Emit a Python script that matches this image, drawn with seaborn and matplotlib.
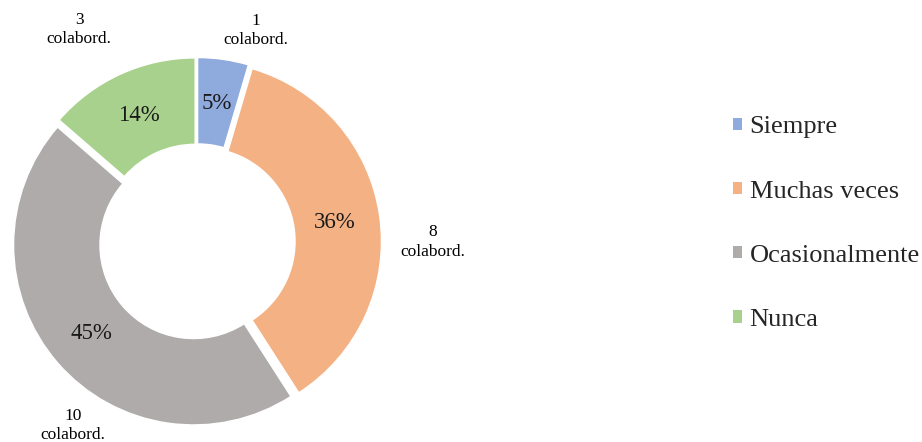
import matplotlib.pyplot as plt
import numpy as np
import seaborn as sns

categories = ['Siempre', 'Muchas veces', 'Ocasionalmente', 'Nunca']
counts = [1, 8, 10, 3]
colors = ['#8FAADC', '#F4B183', '#AFABAB', '#A9D18E']
# where Excel placed the outer "n colabord." labels (degrees, radius)
label_angles = [74.5, 0, 236, 119]
label_radii = [1.22, 1.31, 1.23, 1.35]


def _main():
    sns.set_theme(style='white')
    plt.rcParams['font.family'] = ['Liberation Serif', 'DejaVu Serif']

    fig = plt.figure(figsize=(9.22, 4.42), dpi=100)
    ax = fig.add_axes([0, 0, 1, 1])

    wedges, labels, pcts = ax.pie(
        counts,
        colors=colors,
        startangle=90,
        counterclock=False,
        explode=[0.025] * len(counts),
        radius=1.0,
        labels=[f'{c}\ncolabord.' for c in counts],
        autopct='%.0f%%',
        pctdistance=0.75,
        wedgeprops=dict(width=0.48, edgecolor='white', linewidth=1),
        textprops=dict(color='black'),
    )
    for t, a, rr in zip(labels, label_angles, label_radii):
        t.set_position((rr * np.cos(np.radians(a)), rr * np.sin(np.radians(a))))
        t.set_fontsize(12.5)
        t.set_ha('center')
        t.set_va('center')
        t.set_linespacing(1.3)
    for t in pcts:
        t.set_fontsize(16.5)
        t.set_color('#1a1a1a')

    # map pie centre/radius onto the canvas
    cx, cy, r = 197, 242, 180
    ax.set_xlim(-cx / r, (922 - cx) / r)
    ax.set_ylim(-(442 - cy) / r, cy / r)
    ax.set_aspect('auto')
    ax.axis('off')

    leg = fig.legend(
        wedges, categories,
        loc='center left', bbox_to_anchor=(0.795, 0.494),
        frameon=False, fontsize=19,
        handlelength=0.33, handleheight=0.33, handletextpad=0.3,
        labelspacing=1.6, borderpad=0, borderaxespad=0,
    )
    for h in leg.legend_handles:
        h.set_edgecolor('none')

    fig.savefig('out.png', dpi=100)
    plt.close(fig)


if __name__ == '__main__':
    _main()
